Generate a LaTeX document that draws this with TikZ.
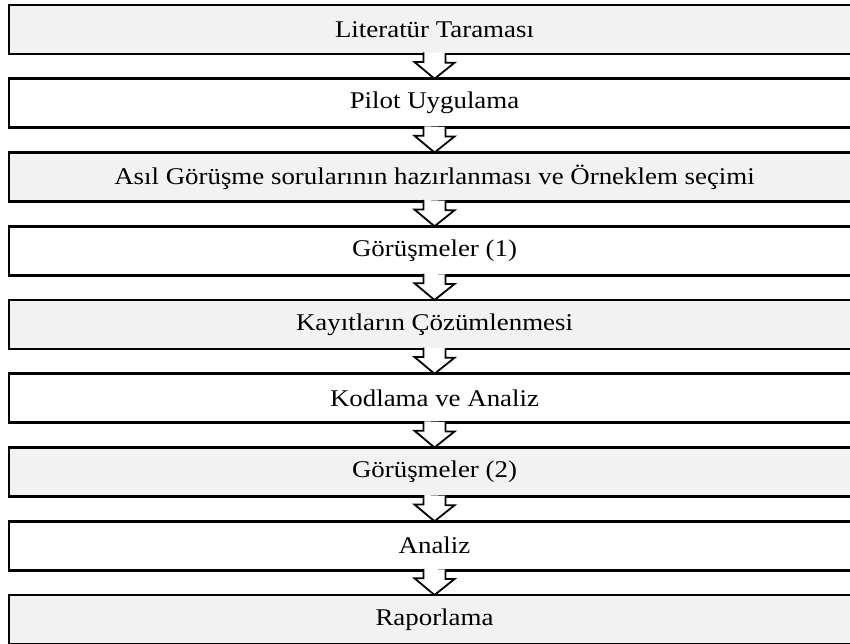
\documentclass[tikz,border=0pt]{standalone}
\usepackage{fontspec}
\setmainfont{Liberation Serif}[FakeStretch=1.12]
\usetikzlibrary{positioning}
\definecolor{boxgrey}{RGB}{242,242,242}

\begin{document}
\begin{tikzpicture}[x=1pt,y=-1pt,
  stage/.style={draw=black, line width=2.6pt, minimum width=851pt, minimum height=49pt,
    inner sep=0pt, outer sep=0pt, font=\fontsize{24}{28}\selectfont},
  shaded/.style={stage, fill=boxgrey},
  plain/.style={stage, fill=white},
  flowarrow/.style={draw=black, fill=white, line width=1.8pt, line join=miter}]
\useasboundingbox (0,0) rectangle (850,644);
% stages
\node[shaded, anchor=north west] (lit) at (9,5) {Literatür Taraması};
\node[plain, below=24.75pt of lit] (pilot) {Pilot Uygulama};
\node[shaded, below=24.75pt of pilot] (prep) {Asıl Görüşme sorularının hazırlanması ve Örneklem seçimi};
\node[plain, below=24.75pt of prep] (int1) {Görüşmeler (1)};
\node[shaded, below=24.75pt of int1] (trans) {Kayıtların Çözümlenmesi};
\node[plain, below=24.75pt of trans] (code) {Kodlama ve Analiz};
\node[shaded, below=24.75pt of code] (int2) {Görüşmeler (2)};
\node[plain, below=24.75pt of int2] (anal) {Analiz};
\node[shaded, below=24.75pt of anal] (report) {Raporlama};
% block arrows
\draw[flowarrow] (lit.south) ++(-11,-1.5) -- ++(0,9.5) -- ++(-9,0) -- (pilot.north) -- ++(20,-16) -- ++(-9,0) -- ++(0,-9.5);
\draw[flowarrow] (pilot.south) ++(-11,-1.5) -- ++(0,9.5) -- ++(-9,0) -- (prep.north) -- ++(20,-16) -- ++(-9,0) -- ++(0,-9.5);
\draw[flowarrow] (prep.south) ++(-11,-1.5) -- ++(0,9.5) -- ++(-9,0) -- (int1.north) -- ++(20,-16) -- ++(-9,0) -- ++(0,-9.5);
\draw[flowarrow] (int1.south) ++(-11,-1.5) -- ++(0,9.5) -- ++(-9,0) -- (trans.north) -- ++(20,-16) -- ++(-9,0) -- ++(0,-9.5);
\draw[flowarrow] (trans.south) ++(-11,-1.5) -- ++(0,9.5) -- ++(-9,0) -- (code.north) -- ++(20,-16) -- ++(-9,0) -- ++(0,-9.5);
\draw[flowarrow] (code.south) ++(-11,-1.5) -- ++(0,9.5) -- ++(-9,0) -- (int2.north) -- ++(20,-16) -- ++(-9,0) -- ++(0,-9.5);
\draw[flowarrow] (int2.south) ++(-11,-1.5) -- ++(0,9.5) -- ++(-9,0) -- (anal.north) -- ++(20,-16) -- ++(-9,0) -- ++(0,-9.5);
\draw[flowarrow] (anal.south) ++(-11,-1.5) -- ++(0,9.5) -- ++(-9,0) -- (report.north) -- ++(20,-16) -- ++(-9,0) -- ++(0,-9.5);
\end{tikzpicture}
\end{document}
